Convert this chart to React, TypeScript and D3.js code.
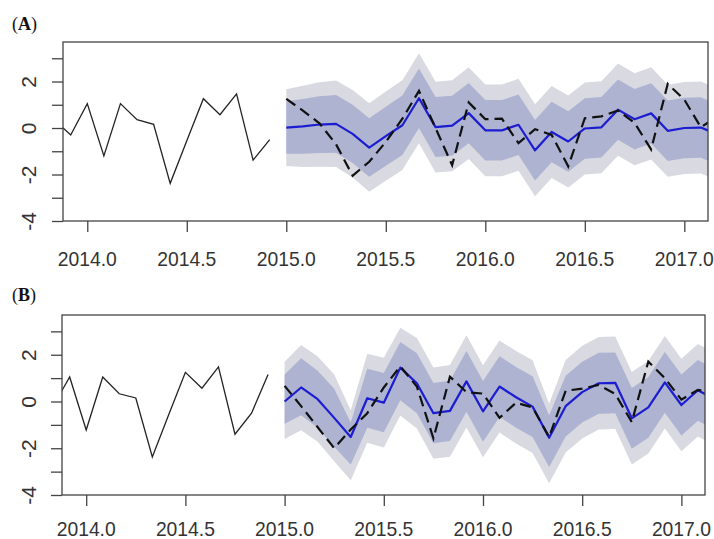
import React, { useEffect, useRef } from "react";
import * as d3 from "d3";

// monthly data: history from Nov 2013, forecast from Jan 2015
const HIST_START = 2013 + 10 / 12;
const FC_START = 2015;

const xTickValues = [2014, 2014.5, 2015, 2015.5, 2016, 2016.5, 2017];
const yTickValues = [-4, -3, -2, -1, 0, 1, 2, 3];
const yTickLabels = ["-4", "", "-2", "", "0", "", "2", ""];

// (A)
const histA = [0.35, -0.3, 1.05, -1.2, 1.05, 0.36, 0.16, -2.38, -0.55, 1.26, 0.57, 1.47, -1.38, -0.5];
const meanA = [0.02, 0.07, 0.15, 0.18, -0.25, -0.84, -0.35, 0.12, 1.28, 0.04, 0.1, 0.64, -0.1, -0.1, 0.14, -0.96, -0.17, -0.58, -0.02, 0.03, 0.79, 0.38, 0.63, -0.12, 0.0, 0.02, -0.28];
const lo95A = [-1.63, -1.68, -1.67, -1.68, -2.13, -2.74, -2.27, -1.81, -0.66, -1.91, -1.86, -1.33, -2.07, -2.07, -1.84, -2.94, -2.15, -2.56, -2.0, -1.95, -1.19, -1.6, -1.35, -2.1, -1.98, -1.96, -2.26];
const lo80A = [-1.11, -1.11, -1.07, -1.06, -1.5, -2.1, -1.62, -1.16, 0.0, -1.25, -1.19, -0.66, -1.4, -1.4, -1.16, -2.26, -1.47, -1.88, -1.32, -1.27, -0.51, -0.92, -0.67, -1.42, -1.3, -1.28, -1.58];
const hi80A = [1.15, 1.25, 1.37, 1.42, 1.0, 0.42, 0.92, 1.4, 2.56, 1.33, 1.39, 1.94, 1.2, 1.2, 1.44, 0.34, 1.13, 0.72, 1.28, 1.33, 2.09, 1.68, 1.93, 1.18, 1.3, 1.32, 1.02];
const hi95A = [1.67, 1.82, 1.97, 2.04, 1.63, 1.06, 1.57, 2.05, 3.22, 1.99, 2.06, 2.61, 1.87, 1.87, 2.12, 1.02, 1.81, 1.4, 1.96, 2.01, 2.77, 2.36, 2.61, 1.86, 1.98, 2.0, 1.7];
const actualA = [1.25, 0.75, 0.2, -0.7, -2.05, -1.45, -0.6, 0.4, 1.6, 0.0, -1.6, 1.1, 0.38, 0.4, -0.65, -0.05, -0.3, -1.65, 0.42, 0.5, 0.75, 0.22, -0.92, 1.9, 1.22, 0.03, 0.5];

// (B)
const histB = [-0.2, 1.05, -1.22, 1.05, 0.33, 0.15, -2.37, -0.55, 1.25, 0.57, 1.48, -1.4, -0.5, 1.15];
const meanB = [0.0, 0.6, 0.1, -0.7, -1.52, 0.14, -0.05, 1.45, 0.78, -0.5, -0.4, 0.86, -0.42, 0.64, 0.18, -0.22, -1.55, -0.2, 0.4, 0.78, 0.8, -0.72, -0.25, 0.82, -0.15, 0.48, 0.1];
const lo95B = [-1.6, -1.23, -1.72, -2.56, -3.37, -1.76, -1.97, -0.6, -1.16, -2.45, -2.36, -1.11, -2.39, -1.33, -1.8, -2.2, -3.5, -2.18, -1.58, -1.2, -1.18, -2.7, -2.23, -1.16, -2.13, -1.5, -1.88];
const lo80B = [-0.95, -0.59, -1.12, -1.94, -2.7, -1.12, -1.32, 0.05, -0.5, -1.79, -1.69, -0.44, -1.72, -0.66, -1.12, -1.52, -2.8, -1.5, -0.9, -0.52, -0.5, -2.02, -1.55, -0.48, -1.45, -0.82, -1.2];
const hi80B = [1.15, 1.85, 1.32, 0.54, -0.9, 1.4, 1.22, 2.55, 2.06, 0.79, 0.89, 2.16, 0.88, 1.94, 1.48, 1.08, -0.6, 1.1, 1.7, 2.08, 2.1, 0.58, 1.05, 2.12, 1.15, 1.78, 1.4];
const hi95B = [1.7, 2.42, 1.92, 1.16, -0.37, 2.04, 1.87, 3.15, 2.72, 1.45, 1.56, 2.83, 1.55, 2.61, 2.16, 1.76, -0.1, 1.78, 2.38, 2.76, 2.78, 1.26, 1.73, 2.8, 1.83, 2.46, 2.08];
const actualB = [0.67, -0.2, -1.1, -2.0, -1.2, -0.5, 0.6, 1.5, 0.64, -1.58, 1.06, 0.4, 0.34, -0.7, -0.05, -0.25, -1.52, 0.46, 0.55, 0.71, 0.32, -0.88, 1.71, 1.0, 0.08, 0.5, 0.4];

interface Panel {
  id: string;
  label: string;
  hist: number[];
  mean: number[];
  lo80: number[];
  hi80: number[];
  lo95: number[];
  hi95: number[];
  actual: number[];
  left: number;
  right: number;
  top: number;
  bottom: number;
  labelY: number;
  xLabelY: number;
}

const panels: Panel[] = [
  { id: "a", label: "A", hist: histA, mean: meanA, lo80: lo80A, hi80: hi80A, lo95: lo95A, hi95: hi95A, actual: actualA,
    left: 63, right: 708, top: 42, bottom: 221, labelY: 30, xLabelY: 266 },
  { id: "b", label: "B", hist: histB, mean: meanB, lo80: lo80B, hi80: hi80B, lo95: lo95B, hi95: hi95B, actual: actualB,
    left: 62, right: 705, top: 315, bottom: 495, labelY: 301, xLabelY: 536 },
];

function drawPanel(root: d3.Selection<SVGSVGElement, unknown, null, undefined>, p: Panel) {
  const x = d3.scaleLinear().domain([2013.878, 2017.119]).range([p.left, p.right]);
  const y = d3.scaleLinear().domain([-4, 3.7]).range([p.bottom, p.top]);
  const g = root.append("g");

  g.append("clipPath").attr("id", `clip-${p.id}`)
    .append("rect")
    .attr("x", p.left).attr("y", p.top)
    .attr("width", p.right - p.left).attr("height", p.bottom - p.top);

  const plot = g.append("g").attr("clip-path", `url(#clip-${p.id})`);
  const fx = (i: number) => x(FC_START + i / 12);

  const band = (lo: number[], hi: number[]) =>
    d3.area<number>().x((_, i) => fx(i)).y0((_, i) => y(lo[i])).y1((_, i) => y(hi[i]));

  plot.append("path").datum(p.hi95).attr("d", band(p.lo95, p.hi95)).attr("fill", "#d9d9e1");
  plot.append("path").datum(p.hi80).attr("d", band(p.lo80, p.hi80)).attr("fill", "#adb3d1");

  // history
  plot.append("path")
    .datum(p.hist)
    .attr("d", d3.line<number>().x((_, i) => x(HIST_START + i / 12)).y(d => y(d)))
    .attr("fill", "none")
    .attr("stroke", "#222")
    .attr("stroke-width", 1.3);

  // forecast mean
  plot.append("path")
    .datum(p.mean)
    .attr("d", d3.line<number>().x((_, i) => fx(i)).y(d => y(d)))
    .attr("fill", "none")
    .attr("stroke", "#1c1cd0")
    .attr("stroke-width", 2.2)
    .attr("stroke-linejoin", "round");

  // observed
  plot.append("path")
    .datum(p.actual)
    .attr("d", d3.line<number>().x((_, i) => fx(i)).y(d => y(d)))
    .attr("fill", "none")
    .attr("stroke", "#111")
    .attr("stroke-width", 2.2)
    .attr("stroke-dasharray", "11 6");

  // axes
  const xAxis = g.append("g")
    .attr("transform", `translate(0,${p.bottom})`)
    .call(d3.axisBottom(x).tickValues(xTickValues).tickSize(11).tickFormat(() => ""))
    .attr("color", "#444");
  xAxis.select(".domain").remove();
  xAxis.selectAll("line").attr("stroke-width", 1.3);

  g.selectAll(".xlab")
    .data(xTickValues)
    .enter()
    .append("text")
    .attr("x", d => x(d))
    .attr("y", p.xLabelY)
    .attr("text-anchor", "middle")
    .attr("textLength", 59)
    .attr("lengthAdjust", "spacingAndGlyphs")
    .style("font-family", "Arial, 'Liberation Sans', sans-serif")
    .style("font-size", "21px")
    .style("fill", "#333")
    .text(d => d3.format(".1f")(d));

  const yAxis = g.append("g")
    .attr("transform", `translate(${p.left},0)`)
    .call(d3.axisLeft(y).tickValues(yTickValues).tickSize(11).tickFormat((_, i) => yTickLabels[i]))
    .attr("color", "#444");
  yAxis.select(".domain").remove();
  yAxis.selectAll("line").attr("stroke-width", 1.3);
  yAxis.selectAll("text")
    .attr("transform", "rotate(-90)")
    .attr("x", 0)
    .attr("y", -(p.left - 36))
    .attr("dy", 0)
    .attr("text-anchor", "middle")
    .style("font-family", "Arial, 'Liberation Sans', sans-serif")
    .style("font-size", "21px")
    .style("fill", "#333");

  g.append("rect")
    .attr("x", p.left).attr("y", p.top)
    .attr("width", p.right - p.left).attr("height", p.bottom - p.top)
    .attr("fill", "none")
    .attr("stroke", "#444")
    .attr("stroke-width", 1.3);

  const lab = g.append("text")
    .attr("x", 12)
    .attr("y", p.labelY)
    .style("font-family", "'Liberation Serif', 'Times New Roman', serif")
    .style("font-size", "18px")
    .style("fill", "#111");
  lab.append("tspan").text("(");
  lab.append("tspan").style("font-weight", "bold").text(p.label);
  lab.append("tspan").text(")");
}

export default function App() {
  const svgRef = useRef<SVGSVGElement>(null);

  useEffect(() => {
    if (!svgRef.current) return;
    const svg = d3.select(svgRef.current);
    svg.selectAll("*").remove();
    panels.forEach(p => drawPanel(svg, p));
  }, []);

  return (
    <svg
      ref={svgRef}
      width={714}
      height={539}
      style={{ position: "absolute", left: 0, top: 0, background: "#fff" }}
    />
  );
}
